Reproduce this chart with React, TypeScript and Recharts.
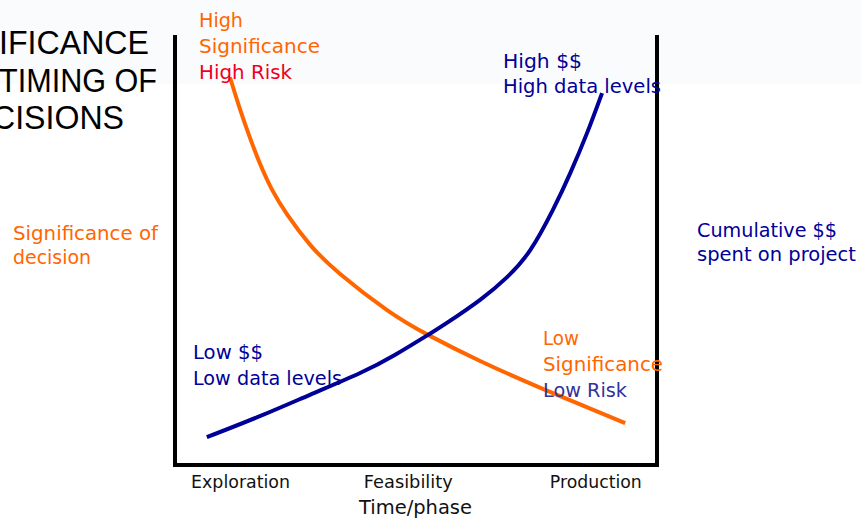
import React from "react";
import { LineChart, Line, XAxis, YAxis } from "recharts";

// phases along the time axis
const phases = ["Exploration", "Feasibility", "Production"];
const phasePos = [13.6, 48.4, 87.3];

// significance of decision (orange) vs time
const significance = [
  { t: 11.4, v: 90.6 },
  { t: 13.5, v: 83.1 },
  { t: 15.6, v: 76.3 },
  { t: 17.6, v: 70.5 },
  { t: 20.1, v: 64.4 },
  { t: 23.4, v: 58.3 },
  { t: 28.0, v: 51.5 },
  { t: 34.2, v: 44.7 },
  { t: 44.0, v: 36.2 },
  { t: 52.5, v: 30.4 },
  { t: 63.3, v: 24.3 },
  { t: 76.3, v: 17.8 },
  { t: 93.4, v: 9.8 },
];

// cumulative $$ spent on project (blue) vs time
const spend = [
  { t: 6.6, v: 6.5 },
  { t: 17.6, v: 11.4 },
  { t: 28.0, v: 16.4 },
  { t: 38.4, v: 21.5 },
  { t: 45.6, v: 25.7 },
  { t: 52.5, v: 30.4 },
  { t: 56.4, v: 33.2 },
  { t: 63.3, v: 38.6 },
  { t: 68.9, v: 43.9 },
  { t: 73.7, v: 50.2 },
  { t: 78.4, v: 59.6 },
  { t: 82.0, v: 68.2 },
  { t: 85.5, v: 77.6 },
  { t: 88.6, v: 86.9 },
];

const ORANGE = "#ff6600";
const BLUE = "#000099";
const COMIC = "'Comic Sans MS', 'DejaVu Sans', sans-serif";
const ARIAL = "'Liberation Sans', Arial, sans-serif";

const tickWidths = [99, 89, 92];

const PhaseTick = (props: any) => {
  const { x, y, payload } = props;
  const i = phasePos.indexOf(payload.value);
  return (
    <text
      x={x}
      y={y}
      dy={23}
      textAnchor="middle"
      fontFamily={COMIC}
      fontSize={17}
      fill="#111"
      textLength={tickWidths[i]}
      lengthAdjust="spacingAndGlyphs"
    >
      {phases[i]}
    </text>
  );
};

// annotation text: [text, x, baseline, width, color, size, font]
const notes: [string, number, number, number, string, number, string][] = [
  ["IFICANCE", -1, 54, 150, "#000", 34, ARIAL],
  ["TIMING OF", -1, 92, 158, "#000", 34, ARIAL],
  ["CISIONS", -8, 129, 132, "#000", 34, ARIAL],
  ["High", 199, 27, 44, ORANGE, 19, COMIC],
  ["Significance", 199, 53, 121, ORANGE, 19, COMIC],
  ["High Risk", 199, 79, 93, "#ee0022", 19, COMIC],
  ["High $$", 503, 68, 79, BLUE, 19, COMIC],
  ["High data levels", 503, 93, 158, BLUE, 19, COMIC],
  ["Low $$", 193, 359, 70, BLUE, 19, COMIC],
  ["Low data levels", 193, 385, 149, BLUE, 19, COMIC],
  ["Low", 543, 345, 36, ORANGE, 19, COMIC],
  ["Significance", 543, 371, 120, ORANGE, 19, COMIC],
  ["Low Risk", 543, 397, 84, "#333399", 19, COMIC],
  ["Significance of", 13, 240, 145, ORANGE, 19, COMIC],
  ["decision", 13, 264, 78, ORANGE, 19, COMIC],
  ["Cumulative $$", 697, 237, 140, BLUE, 19, COMIC],
  ["spent on project", 697, 261, 159, BLUE, 19, COMIC],
  ["Time/phase", 359, 514, 113, "#111", 19, COMIC],
];

const frame = { stroke: "#000", strokeWidth: 4, strokeLinecap: "square" as const };

export default function App() {
  return (
    <div
      style={{
        position: "absolute",
        left: 0,
        top: 0,
        width: 861,
        height: 521,
        background: "linear-gradient(#fafbfc 0px, #fafbfc 84px, #ffffff 84px)",
      }}
    >
      <LineChart
        width={861}
        height={521}
        margin={{ top: 37, right: 203, bottom: 0, left: 174 }}
      >
        <XAxis
          type="number"
          dataKey="t"
          domain={[0, 100]}
          ticks={phasePos}
          height={56}
          tickSize={0}
          tickMargin={0}
          tickLine={false}
          tick={<PhaseTick />}
          axisLine={frame}
          allowDataOverflow
        />
        <YAxis
          yAxisId="left"
          type="number"
          domain={[0, 100]}
          width={1}
          tick={false}
          tickLine={false}
          axisLine={frame}
        />
        <YAxis
          yAxisId="right"
          orientation="right"
          type="number"
          domain={[0, 100]}
          width={1}
          tick={false}
          tickLine={false}
          axisLine={frame}
        />
        <Line
          yAxisId="left"
          data={significance}
          dataKey="v"
          type="natural"
          stroke={ORANGE}
          strokeWidth={4}
          dot={false}
          activeDot={false}
          isAnimationActive={false}
        />
        <Line
          yAxisId="left"
          data={spend}
          dataKey="v"
          type="natural"
          stroke={BLUE}
          strokeWidth={4}
          dot={false}
          activeDot={false}
          isAnimationActive={false}
        />
      </LineChart>
      <svg
        width={861}
        height={521}
        style={{ position: "absolute", left: 0, top: 0, pointerEvents: "none" }}
      >
        {notes.map(([txt, x, y, w, color, size, font], i) => (
          <text
            key={i}
            x={x}
            y={y}
            fill={color}
            fontSize={size}
            fontFamily={font}
            textLength={w}
            lengthAdjust="spacingAndGlyphs"
          >
            {txt}
          </text>
        ))}
      </svg>
    </div>
  );
}
